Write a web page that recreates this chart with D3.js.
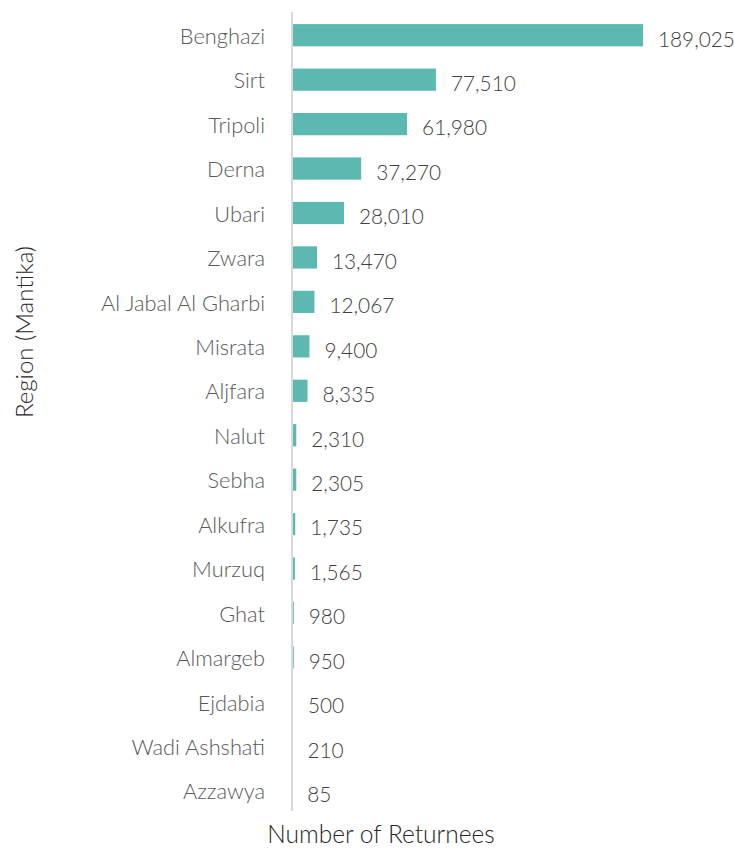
<!DOCTYPE html>
<html><head><meta charset="utf-8">
<script src="https://cdn.jsdelivr.net/npm/d3@7"></script>
<style>body{margin:0;background:#fff;} text{font-family:Lato, "Open Sans", sans-serif;font-weight:300;}</style>
</head><body><svg id="c" width="735" height="848"></svg>
<script>
const categories = ["Benghazi","Sirt","Tripoli","Derna","Ubari","Zwara","Al Jabal Al Gharbi","Misrata","Aljfara","Nalut","Sebha","Alkufra","Murzuq","Ghat","Almargeb","Ejdabia","Wadi Ashshati","Azzawya"];
const values = [189025,77510,61980,37270,28010,13470,12067,9400,8335,2310,2305,1735,1565,980,950,500,210,85];
const xTitle = "Number of Returnees";
const yTitle = "Region (Mantika)";

const svg = d3.select("#c");
const x0 = 292;
const x = d3.scaleLinear().domain([0, 189025]).range([x0, 643]);
const y = d3.scaleBand().domain(categories).range([13, 813]).paddingInner(0.5).paddingOuter(0.25);
const fmt = d3.format(",");

svg.selectAll("rect.bar").data(values).join("rect")
  .attr("class","bar")
  .attr("x", x0)
  .attr("y", (d,i)=>y(categories[i]))
  .attr("width", d=>x(d)-x0)
  .attr("height", y.bandwidth())
  .attr("fill", "#5BB9B2");

svg.append("line").attr("x1",x0).attr("x2",x0).attr("y1",12).attr("y2",811)
  .attr("stroke","#d9d9d9").attr("stroke-width",2);

svg.selectAll("text.cat").data(categories).join("text")
  .attr("class","cat")
  .attr("x", 265)
  .attr("y", d=>y(d)+y.bandwidth()/2+1)
  .attr("dy","0.35em")
  .attr("text-anchor","end")
  .attr("font-size",21.8)
  .attr("fill","#595959")
  .text(d=>d);

svg.selectAll("text.val").data(values).join("text")
  .attr("class","val")
  .attr("x", d=>x(d)+15)
  .attr("y", (d,i)=>y(categories[i])+y.bandwidth()/2+4)
  .attr("dy","0.35em")
  .attr("font-size",20.8)
  .attr("fill","#404040")
  .text(d=>fmt(d));

svg.append("text").attr("x",381).attr("y",834).attr("dy","0.35em")
  .attr("text-anchor","middle").attr("font-size",24.5).attr("fill","#262626").text(xTitle);
svg.append("text").attr("transform","translate(25,332) rotate(-90)").attr("dy","0.35em")
  .attr("text-anchor","middle").attr("font-size",24).attr("fill","#262626").text(yTitle);
</script></body></html>
